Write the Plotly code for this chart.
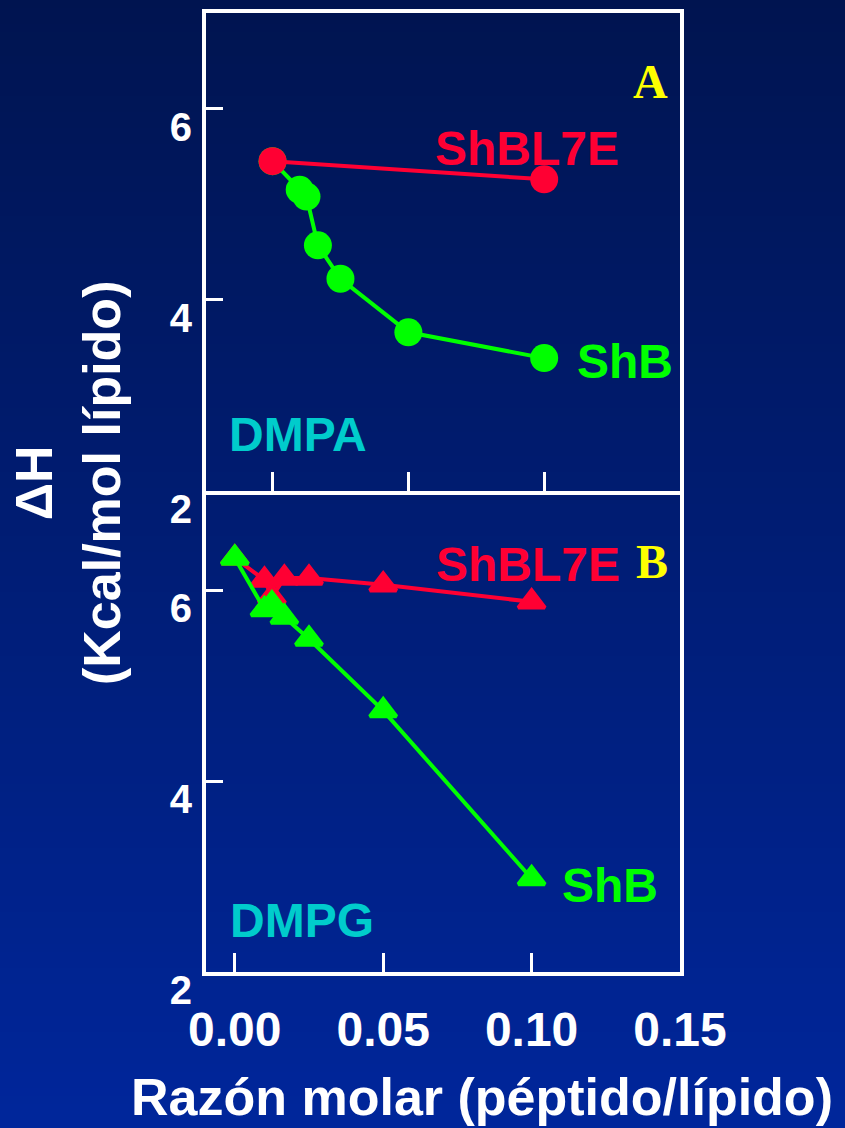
import plotly.graph_objects as go

# --- Data -------------------------------------------------------------
# Panel A: DMPA
dmpa_shbl7e_x = [0.0, 0.10]
dmpa_shbl7e_y = [5.45, 5.26]
dmpa_shb_x = [0.0, 0.01, 0.0125, 0.0167, 0.025, 0.05, 0.10]
dmpa_shb_y = [5.45, 5.15, 5.08, 4.57, 4.22, 3.66, 3.39]

# Panel B: DMPG
dmpg_shbl7e_x = [0.0, 0.01, 0.0125, 0.0167, 0.025, 0.05, 0.10]
dmpg_shbl7e_y = [6.34, 6.11, 5.93, 6.13, 6.13, 6.06, 5.88]
dmpg_shb_x = [0.0, 0.01, 0.0125, 0.0167, 0.025, 0.05, 0.10]
dmpg_shb_y = [6.34, 5.80, 5.86, 5.72, 5.49, 4.74, 2.98]

x_tick_vals = [0.0, 0.05, 0.10, 0.15]
x_tick_text = ["0.00", "0.05", "0.10", "0.15"]
y_tick_vals = [2, 4, 6]
y_tick_text = ["2", "4", "6"]

# --- Styling ----------------------------------------------------------
W, H = 845, 1128
RED = "#FF0033"
GREEN = "#00FF00"
CYAN = "#00CCCC"
YELLOW = "#FFFF00"
SANS = "Liberation Sans, Arial, sans-serif"
SERIF = "Liberation Serif, Times New Roman, serif"

# plot area edges in pixels (inner edge of the frame)
left_px, right_px = 206, 680
topA_px, botA_px = 13, 491
topB_px, botB_px = 495, 972


def dom_x(a, b):
    return [a / W, b / W]


def dom_y(top, bot):
    return [1 - bot / H, 1 - top / H]


fig = go.Figure()

# DMPA: ShB under ShBL7E
fig.add_trace(go.Scatter(
    x=dmpa_shb_x, y=dmpa_shb_y, mode="lines+markers",
    line=dict(color=GREEN, width=4),
    marker=dict(symbol="circle", size=28, color=GREEN),
    xaxis="x", yaxis="y", showlegend=False))
fig.add_trace(go.Scatter(
    x=dmpa_shbl7e_x, y=dmpa_shbl7e_y, mode="lines+markers",
    line=dict(color=RED, width=4),
    marker=dict(symbol="circle", size=28, color=RED),
    xaxis="x", yaxis="y", showlegend=False))

# DMPG: ShBL7E under ShB
fig.add_trace(go.Scatter(
    x=dmpg_shbl7e_x, y=dmpg_shbl7e_y, mode="lines+markers",
    line=dict(color=RED, width=4),
    marker=dict(symbol="triangle-up", size=23, color=RED,
                line=dict(color=RED, width=4)),
    xaxis="x2", yaxis="y2", showlegend=False))
fig.add_trace(go.Scatter(
    x=dmpg_shb_x, y=dmpg_shb_y, mode="lines+markers",
    line=dict(color=GREEN, width=4),
    marker=dict(symbol="triangle-up", size=23, color=GREEN,
                line=dict(color=GREEN, width=4)),
    xaxis="x2", yaxis="y2", showlegend=False))

axis_common = dict(
    showgrid=False, zeroline=False, showline=True, mirror=True,
    linecolor="white", linewidth=4, ticks="inside", tickcolor="white",
    tickwidth=3, automargin=False,
)

fig.update_layout(
    template="none",
    width=W, height=H,
    margin=dict(l=0, r=0, t=0, b=0, pad=0),
    paper_bgcolor="#001450",
    plot_bgcolor="rgba(0,0,0,0)",
    xaxis=dict(**axis_common, domain=dom_x(left_px, right_px),
               range=[-0.0245, 0.15], tickvals=[0.0, 0.05, 0.10],
               ticklen=19, showticklabels=False, anchor="y"),
    yaxis=dict(**axis_common, domain=dom_y(topA_px, botA_px),
               range=[2, 7], tickvals=y_tick_vals,
               ticktext=y_tick_text, ticklen=17, anchor="x",
               tickfont=dict(family=SANS, size=40, color="white",
                             weight="bold"),
               ticklabelshift=18, ticklabelstandoff=2),
    xaxis2=dict(**axis_common, domain=dom_x(left_px, right_px),
                range=[-0.0097, 0.15], tickvals=x_tick_vals,
                ticktext=x_tick_text, ticklen=19, anchor="y2",
                tickfont=dict(family=SANS, size=48, color="white",
                              weight="bold"),
                ticklabelstandoff=12),
    yaxis2=dict(**axis_common, domain=dom_y(topB_px, botB_px),
                range=[2, 7], tickvals=y_tick_vals,
                ticktext=y_tick_text, ticklen=17, anchor="x2",
                tickfont=dict(family=SANS, size=40, color="white",
                              weight="bold"),
                ticklabelshift=18, ticklabelstandoff=2),
)

# vertical blue gradient behind everything
top_rgb = (0, 20, 80)
bot_rgb = (0, 38, 155)
n_bands = 141
shapes = []
for i in range(n_bands):
    t = (i + 0.5) / n_bands
    r = round(top_rgb[0] + (bot_rgb[0] - top_rgb[0]) * t)
    g = round(top_rgb[1] + (bot_rgb[1] - top_rgb[1]) * t)
    b = round(top_rgb[2] + (bot_rgb[2] - top_rgb[2]) * t)
    shapes.append(dict(
        type="rect", xref="paper", yref="paper", layer="below",
        x0=0, x1=1, y1=1 - i / n_bands, y0=1 - (i + 1.05) / n_bands,
        fillcolor=f"rgb({r},{g},{b})", line=dict(width=0)))
fig.update_layout(shapes=shapes)


def label(text, x, y, color, size, xref, yref, family=SANS):
    fig.add_annotation(
        text=text, x=x, y=y, xref=xref, yref=yref, showarrow=False,
        xanchor="center", yanchor="middle",
        font=dict(family=family, size=size, color=color, weight="bold"))


# panel A labels
label("ShBL7E", 0.0938, 5.58, RED, 48, "x", "y")
label("ShB", 0.1296, 3.35, GREEN, 48, "x", "y")
label("DMPA", 0.0095, 2.59, CYAN, 48, "x", "y")
label("A", 0.1390, 6.28, YELLOW, 48, "x", "y", family=SERIF)

# panel B labels
label("ShBL7E", 0.0987, 6.27, RED, 48, "x2", "y2")
label("ShB", 0.1263, 2.91, GREEN, 48, "x2", "y2")
label("DMPG", 0.0227, 2.54, CYAN, 48, "x2", "y2")
label("B", 0.1407, 6.30, YELLOW, 48, "x2", "y2", family=SERIF)

# axis titles
fig.add_annotation(
    text="ΔH<br>(Kcal/mol lípido)", x=68 / W, y=1 - 483 / H,
    xref="paper", yref="paper", showarrow=False, textangle=-90,
    xanchor="center", yanchor="middle",
    font=dict(family=SANS, size=52, color="white", weight="bold"))
fig.add_annotation(
    text="Razón molar (péptido/lípido)", x=482 / W, y=1 - 1097 / H,
    xref="paper", yref="paper", showarrow=False,
    xanchor="center", yanchor="middle",
    font=dict(family=SANS, size=52, color="white", weight="bold"))

fig.write_html("out.html")
